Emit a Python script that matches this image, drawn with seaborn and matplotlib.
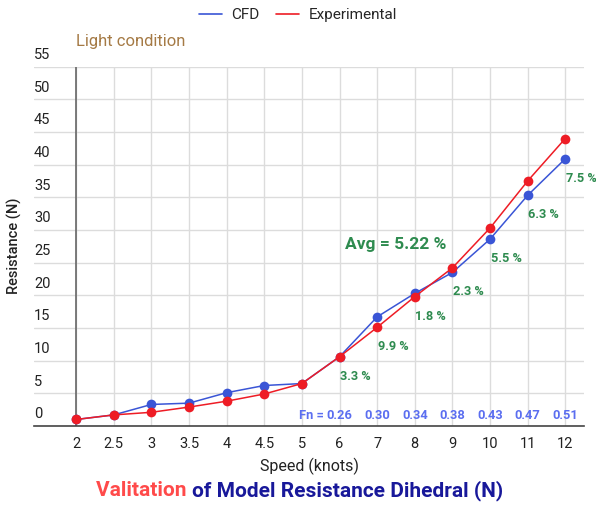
import numpy as np
import pandas as pd
import matplotlib
matplotlib.use("Agg")
import matplotlib.pyplot as plt
import matplotlib.transforms as mtransforms
from matplotlib.lines import Line2D
import seaborn as sns

# Data
speeds = ["2", "2.5", "3", "3.5", "4", "4.5", "5", "6", "7", "8", "9", "10", "11", "12"]
cfd = [1.0, 1.7, 3.3, 3.5, 5.1, 6.2, 6.5, 10.6, 16.7, 20.3, 23.5, 28.6, 35.3, 40.9]
experimental = [1.0, 1.7, 2.1, 2.9, 3.8, 4.9, 6.5, 10.6, 15.1, 19.8, 24.2, 30.3, 37.5, 44.0]
error_labels = ["3.3 %", "9.9 %", "1.8 %", "2.3 %", "5.5 %", "6.3 %", "7.5 %"]
fn_values = ["0.26", "0.30", "0.34", "0.38", "0.43", "0.47", "0.51"]
y_ticks = [0, 5, 10, 15, 20, 25, 30, 35, 40, 45, 50, 55]

blue = "#3a55d6"
red = "#ee1c25"
green = "#2e8b4f"

sns.set_style("white")
plt.rcParams["font.family"] = ["Roboto", "DejaVu Sans"]

idx = np.arange(len(speeds))
df = pd.DataFrame({
    "pos": np.concatenate([idx, idx]),
    "Resistance": cfd + experimental,
    "series": ["CFD"] * len(speeds) + ["Experimental"] * len(speeds),
})

fig = plt.figure(figsize=(5.96, 5.05), dpi=100)
ax = fig.add_axes([0.057, 0.1564, 0.923, 0.7116])

sns.lineplot(data=df, x="pos", y="Resistance", hue="series",
             palette={"CFD": blue, "Experimental": red},
             marker="o", markersize=7, markeredgewidth=0, linewidth=1.1,
             ax=ax, legend=False, zorder=3)

ax.set_xlim(-1.12, 13.5)
ax.set_ylim(0, 55)
ax.set_xticks(idx)
ax.set_xticklabels(speeds)
ax.set_yticks(y_ticks)
ax.set_yticklabels([])
ax.tick_params(axis="both", length=0)
ax.tick_params(axis="x", pad=8, labelsize=10.5, colors="#222222")
ax.grid(True, color="#dcdcdc", linewidth=1)
for s in ["top", "right", "left"]:
    ax.spines[s].set_visible(False)
ax.spines["bottom"].set_color("#444444")
ax.spines["bottom"].set_linewidth(1.2)
ax.axvline(0, color="#666666", linewidth=1.2, zorder=2)

# y tick labels sit above the grid lines
trans = mtransforms.blended_transform_factory(ax.transAxes, ax.transData)
for v in y_ticks:
    ax.text(0.0, v + 0.7, str(v), transform=trans, ha="left", va="bottom",
            fontsize=10.5, color="#222222")

# error percentages next to points from 6 knots on
off = mtransforms.offset_copy(ax.transData, fig=fig, x=16, y=-13, units="dots")
for i, lab in enumerate(error_labels):
    p = 7 + i
    ax.text(p, min(cfd[p], experimental[p]), lab, transform=off, ha="center",
            va="top", fontsize=9.2, color=green, fontweight="bold")

# Froude numbers
for i, fn in enumerate(fn_values):
    ax.text(7 + i, 1.6, fn, ha="center", va="center", fontsize=9.3,
            color="#5b6ef0", fontweight="bold")
ax.text(7 - 0.42, 1.6, "Fn =", ha="right", va="center", fontsize=9.3,
        color="#5b6ef0", fontweight="bold")

ax.text(8.5, 27.8, "Avg = 5.22 %", ha="center", va="center", fontsize=12.5,
        color=green, fontweight="bold")

ax.set_xlabel("Speed (knots)", fontsize=11.5, color="#222222", labelpad=5)
ax.set_ylabel("")
fig.text(0.025, 0.513, "Resistance (N)", rotation=90, ha="center", va="center",
         fontsize=10.5, color="#222222", fontweight="medium")

fig.text(0.128, 0.918, "Light condition", fontsize=12, color="#a57a45",
         ha="left", va="center")

handles = [Line2D([0], [0], color=blue, lw=1.2), Line2D([0], [0], color=red, lw=1.2)]
fig.legend(handles, ["CFD", "Experimental"], loc="center", bbox_to_anchor=(0.5, 0.97),
           ncol=2, frameon=False, fontsize=11, handlelength=1.5, columnspacing=1.1,
           handletextpad=0.6)

# two-colour title
t1 = fig.text(0.5, 0.028, "Valitation ", fontsize=15, fontweight="bold",
              color="#ff4a4a", ha="right", va="center")
fig.canvas.draw()
w1 = t1.get_window_extent().width
t2 = fig.text(0, 0.028, "of Model Resistance Dihedral (N)", fontsize=15,
              fontweight="bold", color="#18189a", ha="left", va="center")
fig.canvas.draw()
w2 = t2.get_window_extent().width
start = 299.5 - (w1 + w2) / 2
t1.set_position(((start + w1) / fig.bbox.width, 0.028))
t2.set_position(((start + w1) / fig.bbox.width, 0.028))

fig.savefig("out.png", dpi=100)
